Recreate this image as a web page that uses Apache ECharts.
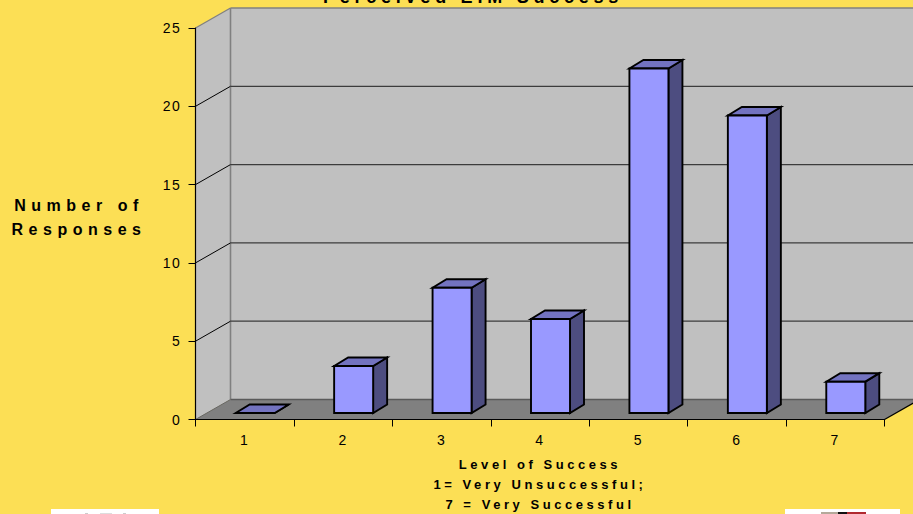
<!DOCTYPE html>
<html>
<head>
<meta charset="utf-8">
<style>
html,body{margin:0;padding:0;background:#FCDF55;overflow:hidden}
#c{width:913px;height:514px}
svg text{letter-spacing:1.6px}
svg text[style*="18px"]{letter-spacing:4.75px}
svg text[style*="16px"]{letter-spacing:5.5px}
svg text[style*="bold"][style*="13px"]{letter-spacing:3.55px}
</style>
<script src="https://cdn.jsdelivr.net/npm/echarts@6/dist/echarts.min.js"></script>
</head>
<body>
<div id="c"></div>
<script>
var categories = ['1','2','3','4','5','6','7'];
var responses = [0,3,8,6,22,19,2];
var gridValues = [0,5,10,15,20,25];
var chartTitle = 'Perceived EIM Success';
var yTitle = 'Number of\nResponses';
var xTitle = 'Level of Success\n1= Very Unsuccessful;\n7 = Very Successful';

var WALL_DX = 35, WALL_DY = -20;
var BAR_DX = 14, BAR_DY = -8.5, BAR_LIFT = 6.5, BAR_LEFT = 9, BAR_W = 39;

function poly(pts, fill, stroke, lw) {
  return {type:'polygon', shape:{points:pts}, style:{fill:fill, stroke:stroke||null, lineWidth:lw||0}};
}
function line(x1,y1,x2,y2,stroke,lw) {
  return {type:'line', shape:{x1:x1,y1:y1,x2:x2,y2:y2}, style:{stroke:stroke, lineWidth:lw, fill:null}};
}

function renderWalls(params, api) {
  var r = params.coordSys, L = r.x, R = r.x + r.width, T = r.y, B = r.y + r.height;
  var bx = L + WALL_DX, dy = WALL_DY;
  return {type:'group', children:[
    poly([[L,B],[bx,B+dy],[bx,T+dy],[L,T]], '#C0C0C0'),
    poly([[bx,B+dy],[R+WALL_DX,B+dy],[R+WALL_DX,T+dy],[bx,T+dy]], '#C0C0C0'),
    poly([[L,B],[R,B],[R+WALL_DX,B+dy],[bx,B+dy]], '#808080'),
    line(bx,T+dy,bx,B+dy,'#808080',1.6),
    line(bx,T+dy,R+WALL_DX,T+dy,'#808080',1.6),
    line(L,T,bx,T+dy,'#808080',1.2),
    line(L,B,bx,B+dy,'#666666',1),
    line(bx,B+dy,R+WALL_DX,B+dy,'#5a5a5a',1.4),
    line(R,B,R+WALL_DX,B+dy,'#000000',1.2)
  ]};
}

function renderGrid(params, api) {
  var r = params.coordSys, L = r.x, R = r.x + r.width;
  var v = api.value(0);
  var y = api.coord([0, v])[1];
  if (v === 0 || v === 25) return {type:'group', children:[]};
  return {type:'group', children:[
    line(L,y,L+WALL_DX,y+WALL_DY,'#000000',1),
    line(L+WALL_DX,y+WALL_DY,R+WALL_DX,y+WALL_DY,'#3c3c3c',1.3)
  ]};
}

function renderBar(params, api) {
  var p = api.coord([api.value(0), api.value(1)]);
  var base = api.coord([api.value(0), 0]);
  var x0 = p[0] - BAR_LEFT, x1 = x0 + BAR_W;
  var top = p[1] - BAR_LIFT, bot = base[1] - BAR_LIFT;
  var dx = BAR_DX, dy = BAR_DY, s = '#000000', lw = 1.9;
  return {type:'group', children:[
    poly([[x1,top],[x1+dx,top+dy],[x1+dx,bot+dy],[x1,bot]], '#4D4D80', s, lw),
    poly([[x0,top],[x1,top],[x1+dx,top+dy],[x0+dx,top+dy]], '#7373C0', s, lw),
    poly([[x0,top],[x1,top],[x1,bot],[x0,bot]], '#9999FF', s, lw)
  ]};
}

var chart = echarts.init(document.getElementById('c'), null, {renderer:'svg'});
chart.setOption({
  animation:false,
  backgroundColor:'#FCDF55',
  title:[{
    text:chartTitle, left:468, top:-17, textAlign:'center',
    textStyle:{fontFamily:'Liberation Sans', fontSize:18, fontWeight:'bold', color:'#000'}
  },{
    text:yTitle, left:79, top:193, textAlign:'center', padding:0,
    textStyle:{fontFamily:'Liberation Sans', fontSize:16, fontWeight:'bold', color:'#000', lineHeight:24, align:'center'}
  }],
  grid:{left:195.5, right:28.5, top:28, bottom:94.5, outerBoundsMode:'none', containLabel:false},
  xAxis:{
    type:'category', data:categories, z:4,
    axisLine:{lineStyle:{color:'#000',width:1.2}},
    axisTick:{show:true, alignWithLabel:false, length:7, lineStyle:{color:'#000',width:1}},
    axisLabel:{fontFamily:'Liberation Sans', fontSize:14, color:'#000', margin:13},
    name:xTitle, nameLocation:'middle', nameGap:35,
    nameTextStyle:{fontFamily:'Liberation Sans', fontSize:13, fontWeight:'bold', color:'#000', lineHeight:20, verticalAlign:'top', align:'center'}
  },
  yAxis:{
    type:'value', min:0, max:25, interval:5, z:4,
    axisLine:{show:true, lineStyle:{color:'#000',width:1.2}},
    axisTick:{show:true, length:7, lineStyle:{color:'#000',width:1}},
    splitLine:{show:false},
    axisLabel:{fontFamily:'Liberation Sans', fontSize:14, color:'#000', margin:14}
  },
  series:[
    {type:'custom', name:'walls', z:1, silent:true, renderItem:renderWalls, data:[0], encode:{y:0}},
    {type:'custom', name:'grid', z:2, silent:true, renderItem:renderGrid, data:gridValues.map(function(v){return [v];}), encode:{y:0}},
    {type:'custom', name:'Responses', z:3, renderItem:renderBar,
      data:responses.map(function(v,i){return [i,v];}), encode:{x:0,y:1}}
  ],
  graphic:[
    {type:'rect', shape:{x:51,y:509,width:108,height:5}, style:{fill:'#fff'}},
    {type:'rect', shape:{x:785,y:509,width:115,height:5}, style:{fill:'#fff'}},
    {type:'rect', shape:{x:821,y:512,width:17,height:2}, style:{fill:'#b5a99a'}},
    {type:'rect', shape:{x:838,y:512,width:9,height:2}, style:{fill:'#111'}},
    {type:'rect', shape:{x:847,y:512,width:19,height:2}, style:{fill:'#b02a30'}},
    {type:'rect', shape:{x:85,y:513,width:3,height:1}, style:{fill:'#ccc'}},
    {type:'rect', shape:{x:100,y:513,width:12,height:1}, style:{fill:'#ddd'}},
    {type:'rect', shape:{x:123,y:513,width:3,height:1}, style:{fill:'#ccc'}}
  ]
});
</script>
</body>
</html>
